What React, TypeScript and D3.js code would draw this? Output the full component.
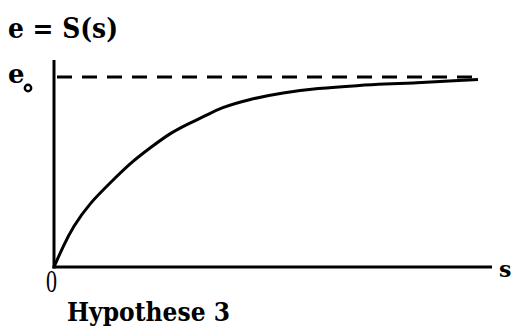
import React from "react";
import * as d3 from "d3";

const sValues = [0, 0.2, 0.43, 0.82, 1.28, 1.74, 2.19, 2.65, 3.1, 3.5, 3.79, 4.47, 5.23, 6.0, 6.99, 7.51, 8.29, 9.04, 9.68];
const eValues = [0, 0.105, 0.211, 0.337, 0.442, 0.547, 0.626, 0.705, 0.758, 0.8, 0.837, 0.884, 0.918, 0.94, 0.956, 0.963, 0.969, 0.979, 0.987];
const eMax = 1;
const titleText = "e = S(s)";
const captionText = "Hypothese 3";

export default function App() {
  const x = d3.scaleLinear().domain([0, 10]).range([54, 492]);
  const y = d3.scaleLinear().domain([0, 1]).range([267, 77]);
  const pts: [number, number][] = sValues.map((s, i) => [s, eValues[i]]);
  const line = d3
    .line<[number, number]>()
    .x((d) => x(d[0]))
    .y((d) => y(d[1]))
    .curve(d3.curveBasis);
  const font = "'DejaVu Serif', 'Liberation Serif', serif";
  const font2 = "'Liberation Serif', serif";
  return (
    <svg
      width={513}
      height={333}
      style={{ position: "absolute", left: 0, top: 0, background: "#fff" }}
    >
      <text
        x={8}
        y={38}
        fontFamily={font}
        fontWeight="bold"
        fontSize={27}
        fill="#000"
        textLength={110}
        lengthAdjust="spacingAndGlyphs"
      >
        {titleText}
      </text>
      <text x={8} y={83} fontFamily={font} fontWeight="bold" fontSize={26} fill="#000">
        e
      </text>
      <circle cx={28} cy={88} r={3.2} fill="none" stroke="#000" strokeWidth={2.4} />
      {/* axes */}
      <line x1={x(0)} y1={60} x2={x(0)} y2={y(0) + 1.5} stroke="#000" strokeWidth={3} />
      <line x1={x(0) - 1.5} y1={y(0)} x2={x(10)} y2={y(0)} stroke="#000" strokeWidth={3} />
      {/* asymptote */}
      <line
        x1={x(0) + 3}
        y1={y(eMax)}
        x2={x(9.68)}
        y2={y(eMax)}
        stroke="#000"
        strokeWidth={3}
        strokeDasharray="15 10"
      />
      <path d={line(pts) || ""} fill="none" stroke="#000" strokeWidth={3} />
      <text
        x={46}
        y={292}
        fontFamily={font2}
        fontSize={31}
        fill="#000"
        textLength={11}
        lengthAdjust="spacingAndGlyphs"
      >
        0
      </text>
      <text x={499} y={277} fontFamily={font} fontWeight="bold" fontSize={22} fill="#000">
        s
      </text>
      <text
        x={67}
        y={321}
        fontFamily={font}
        fontWeight="bold"
        fontSize={26}
        fill="#000"
        textLength={163}
        lengthAdjust="spacingAndGlyphs"
      >
        {captionText}
      </text>
    </svg>
  );
}
